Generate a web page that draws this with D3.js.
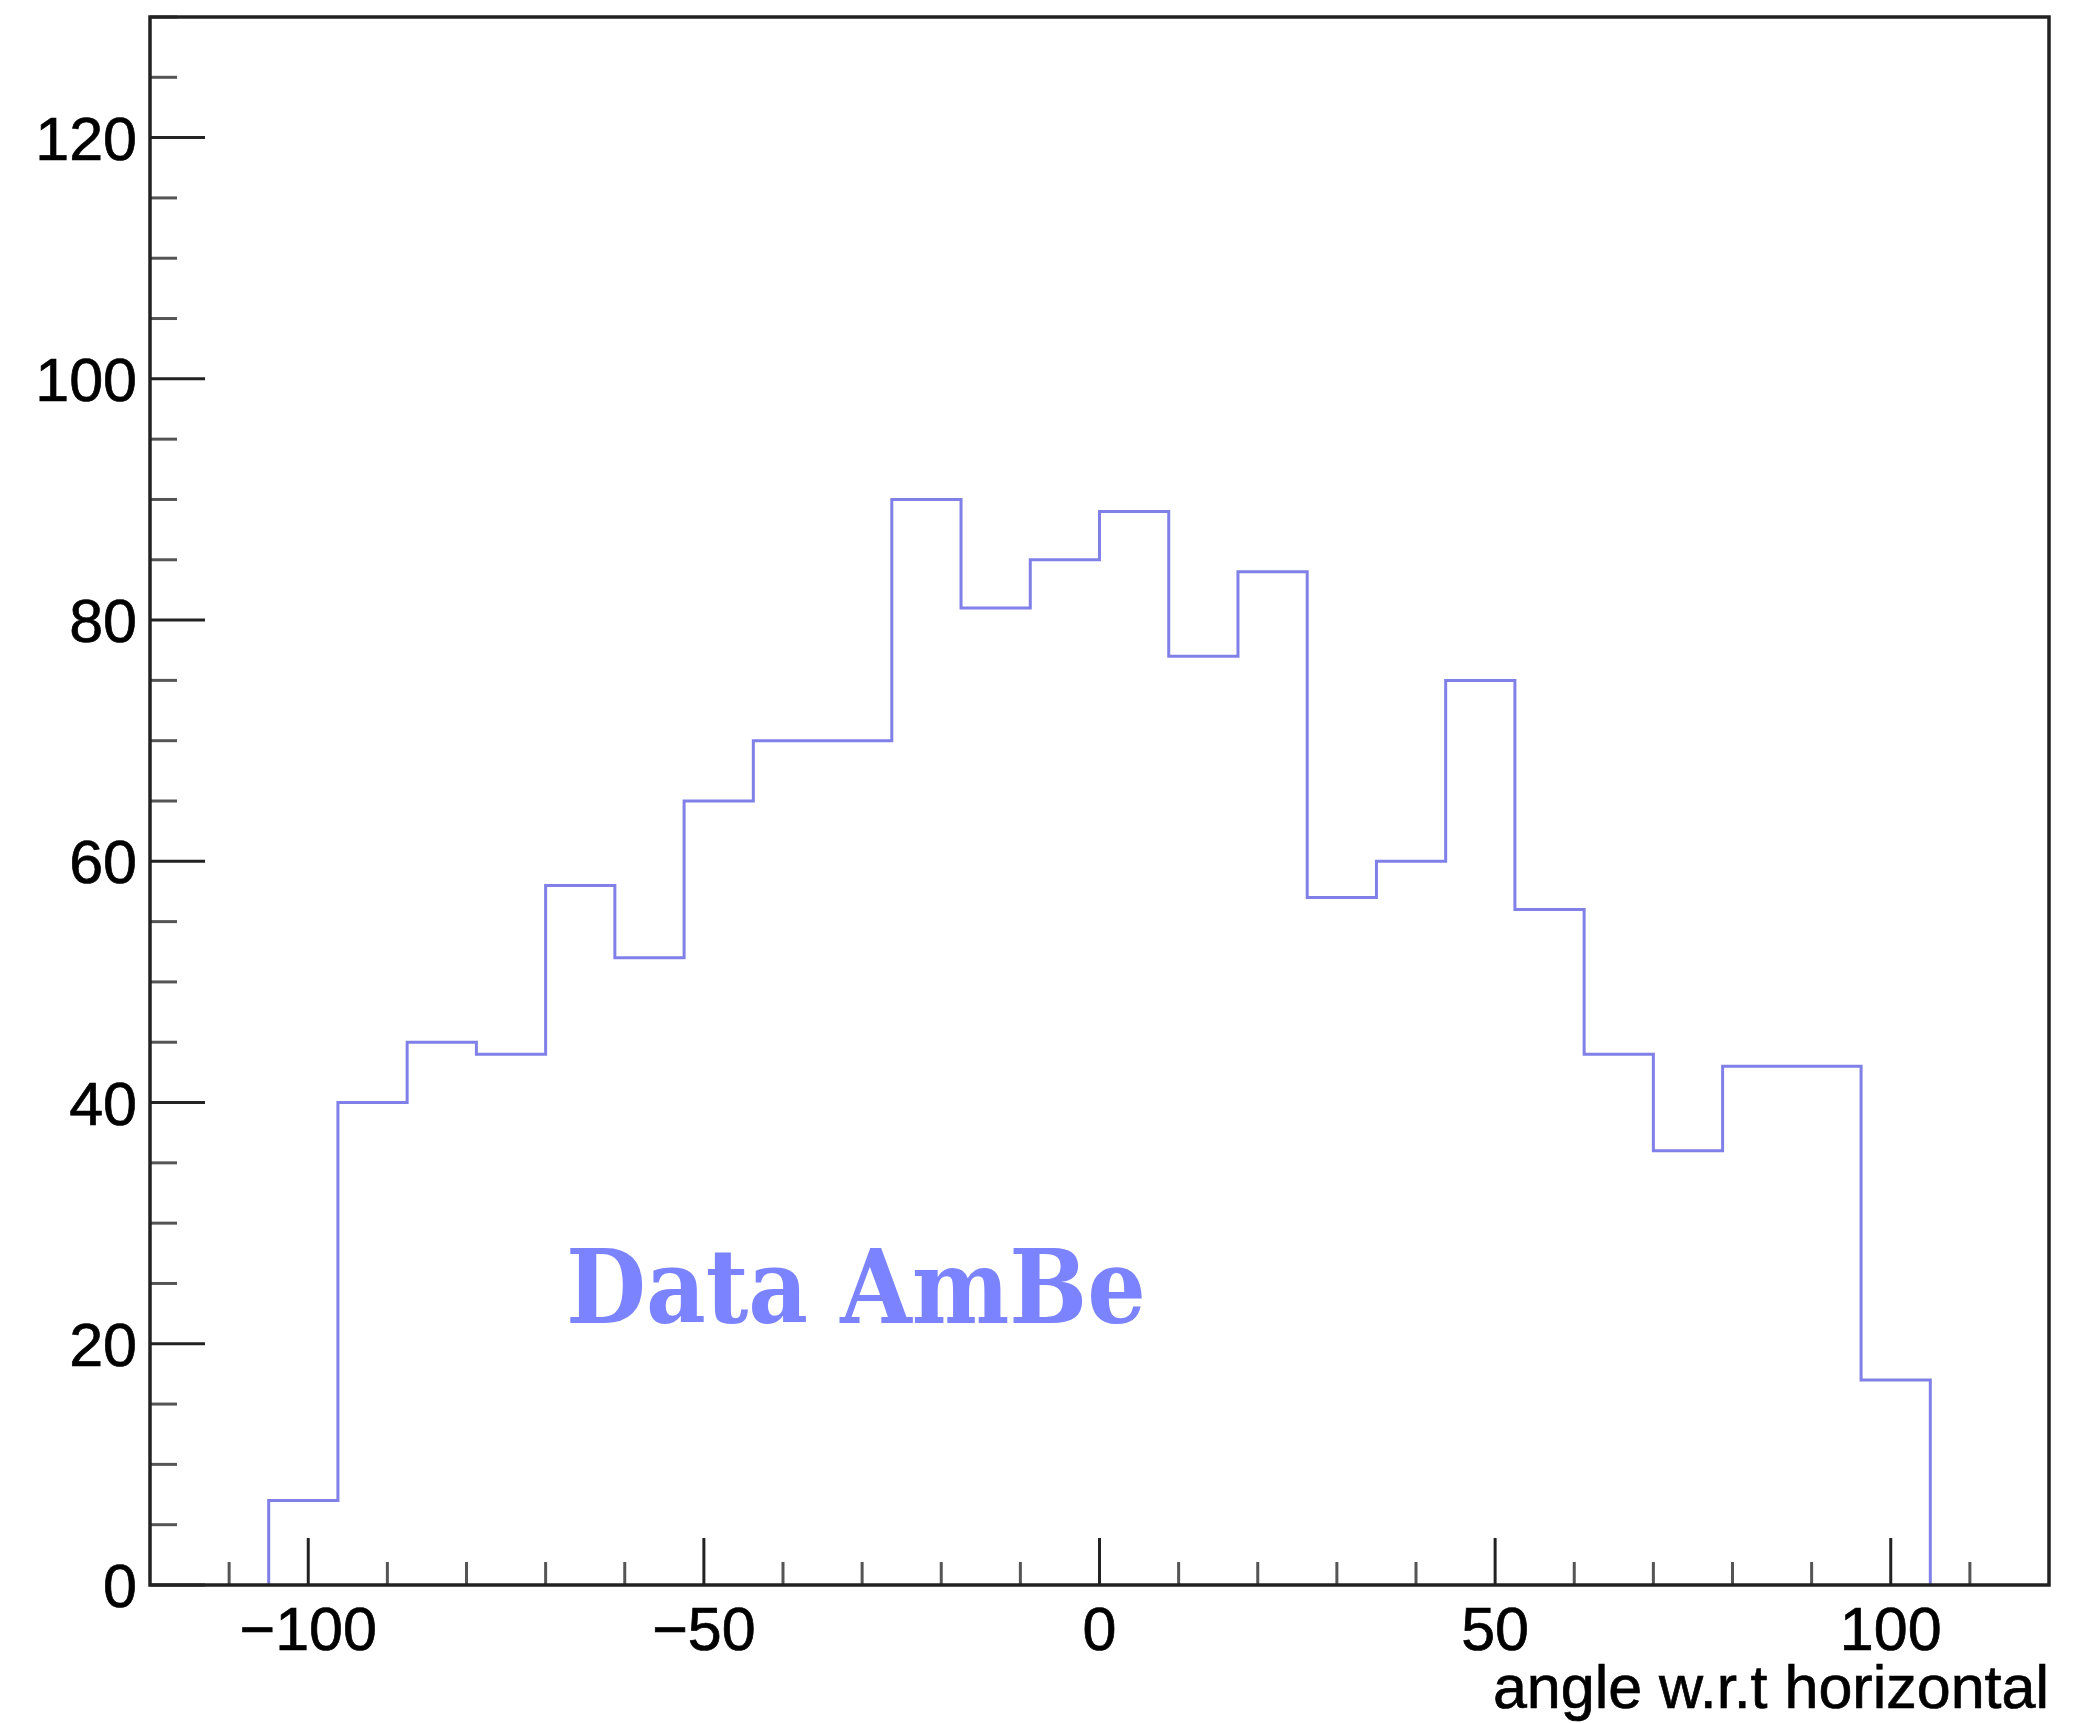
<!DOCTYPE html>
<html>
<head>
<meta charset="utf-8">
<script src="https://cdn.jsdelivr.net/npm/d3@7"></script>
<style>
  html, body { margin: 0; padding: 0; background: #fff; }
  svg { display: block; }
</style>
</head>
<body>
<script>
// ---- data ----
const binEdgesStart = -105;
const binWidth = 8.75;
const counts = [7, 40, 45, 44, 58, 52, 65, 70, 70, 90, 81, 85, 89, 77, 84, 57, 60, 75, 56, 44, 36, 43, 43, 17];
const xMajorTicks = [-100, -50, 0, 50, 100];
const yMajorTicks = [0, 20, 40, 60, 80, 100, 120];
const xDomain = [-120, 120];
const yDomain = [0, 130];
const xTitle = "angle w.r.t horizontal";
const labelText = "Data AmBe";

// ---- layout ----
const W = 2085, H = 1723;
const mLeft = 150, mRight = 2049, mTop = 17, mBottom = 1585;

const svg = d3.select("body").append("svg").attr("width", W).attr("height", H);

const x = d3.scaleLinear().domain(xDomain).range([mLeft, mRight]);
const y = d3.scaleLinear().domain(yDomain).range([mBottom, mTop]);

// histogram path (steps)
const edges = d3.range(counts.length + 1).map(i => binEdgesStart + i * binWidth);
const pts = [];
pts.push([edges[0], 0]);
counts.forEach((c, i) => { pts.push([edges[i], c]); pts.push([edges[i + 1], c]); });
pts.push([edges[counts.length], 0]);
const line = d3.line().x(d => x(d[0])).y(d => y(d[1]));
svg.append("path").attr("d", line(pts))
  .attr("fill", "none").attr("stroke", "#8080e8").attr("stroke-width", 3)
  .attr("stroke-linejoin", "miter");

// minor/major ticks
const g = svg.append("g").attr("stroke", "#222").attr("stroke-width", 3);
const xMinor = d3.range(-110, 111, 10).filter(v => !xMajorTicks.includes(v));
xMinor.forEach(v => g.append("line").attr("x1", x(v)).attr("x2", x(v)).attr("y1", mBottom).attr("y2", mBottom - 23).attr("stroke", "#555"));
xMajorTicks.forEach(v => g.append("line").attr("x1", x(v)).attr("x2", x(v)).attr("y1", mBottom).attr("y2", mBottom - 47));
const yMinor = d3.range(0, 131, 5).filter(v => !yMajorTicks.includes(v));
yMinor.forEach(v => g.append("line").attr("x1", mLeft).attr("x2", mLeft + 27).attr("y1", y(v)).attr("y2", y(v)).attr("stroke", "#555"));
yMajorTicks.forEach(v => g.append("line").attr("x1", mLeft).attr("x2", mLeft + 55).attr("y1", y(v)).attr("y2", y(v)));

// frame
svg.append("rect").attr("x", mLeft).attr("y", mTop).attr("width", mRight - mLeft).attr("height", mBottom - mTop)
  .attr("fill", "none").attr("stroke", "#222").attr("stroke-width", 3.5);

// tick labels
const font = "'Liberation Sans', Arial, Helvetica, sans-serif";
const fmt = v => v < 0 ? "\u2212" + Math.abs(v) : String(v);
svg.append("g").selectAll("text").data(xMajorTicks).join("text")
  .attr("x", d => x(d)).attr("y", 1650)
  .attr("text-anchor", "middle").attr("font-family", font).attr("font-size", 61)
  .attr("fill", "#000").attr("stroke", "#000").attr("stroke-width", 0.7).text(fmt);
svg.append("g").selectAll("text").data(yMajorTicks).join("text")
  .attr("x", 137).attr("y", d => y(d) + 22)
  .attr("text-anchor", "end").attr("font-family", font).attr("font-size", 61)
  .attr("fill", "#000").attr("stroke", "#000").attr("stroke-width", 0.7).text(fmt);

// axis title
svg.append("text").attr("x", mRight).attr("y", 1708)
  .attr("text-anchor", "end").attr("font-family", font).attr("font-size", 61)
  .attr("fill", "#000").attr("stroke", "#000").attr("stroke-width", 0.7).text(xTitle);

// label
svg.append("text").attr("x", 566).attr("y", 1323)
  .attr("font-family", "'DejaVu Serif', serif").attr("font-weight", "bold").attr("font-size", 102)
  .attr("textLength", 580).attr("lengthAdjust", "spacingAndGlyphs")
  .attr("fill", "#7b83ff").text(labelText);
</script>
</body>
</html>
